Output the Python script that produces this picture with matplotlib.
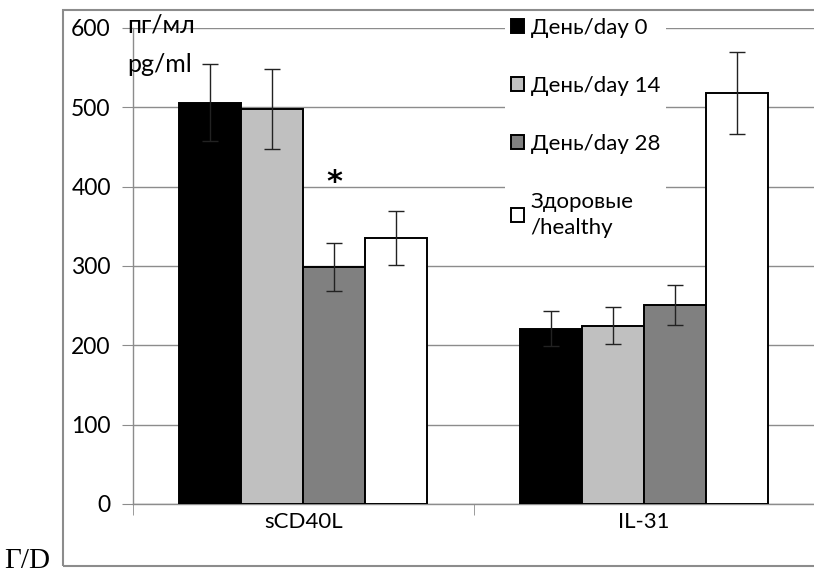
import matplotlib
matplotlib.use("Agg")
import matplotlib.pyplot as plt
from matplotlib.patches import Rectangle
import numpy as np

categories = ["sCD40L", "IL-31"]
series_names = ["День/day 0", "День/day 14", "День/day 28", "Здоровые\n/healthy"]
values = {
    "День/day 0": [506, 221],
    "День/day 14": [498, 225],
    "День/day 28": [299, 251],
    "Здоровые\n/healthy": [335, 518],
}
errors = {
    "День/day 0": [49, 22],
    "День/day 14": [50, 23],
    "День/day 28": [30, 25],
    "Здоровые\n/healthy": [34, 52],
}
colors = ["#000000", "#C0C0C0", "#808080", "#FFFFFF"]
yticks = [0, 100, 200, 300, 400, 500, 600]
star_value = 405  # position of the significance asterisk (sCD40L, day 28)

plt.rcParams['font.family'] = ['Lato', 'DejaVu Sans']

W, H = 814, 578
fig = plt.figure(figsize=(W / 100, H / 100), dpi=100)

# chart area frame (drawn above axes so the legend background doesn't hide it)
fig.patches.append(Rectangle((63 / W, (H - 566) / H), (W + 10 - 63) / W, (566 - 10) / H,
                             transform=fig.transFigure, fill=False,
                             edgecolor="#8C8C8C", linewidth=1.5, zorder=10))

ax = fig.add_axes([133 / W, (H - 504) / H, (W - 133) / W, (504 - 28) / H])
ax.set_facecolor("none")

x = np.arange(len(categories))
w = 0.1824
for i, name in enumerate(series_names):
    pos = x + (i - 1.5) * w
    ax.bar(pos, values[name], width=w, color=colors[i], edgecolor="black",
           linewidth=1.4, label=name, zorder=3)
    ax.errorbar(pos, values[name], yerr=errors[name], fmt="none",
                ecolor="#222222", elinewidth=1.0, capsize=5.5, capthick=1.0, zorder=4)

ax.text(x[0] + 0.5 * w, star_value, "*", ha="center", va="center",
        fontsize=22, fontweight="bold", family="DejaVu Sans", zorder=5)

ax.set_xlim(-0.5, 1.5)
ax.set_ylim(0, 600)
ax.set_yticks(yticks)
ax.set_yticklabels([str(t) for t in yticks], fontsize=16.5)
ax.yaxis.grid(True, color="#8C8C8C", linewidth=1.0, zorder=0)
ax.set_axisbelow(True)

ax.set_xticks(x)
ax.set_xticklabels(categories, fontsize=16)
ax.set_xticks([-0.5, 0.5, 1.5], minor=True)
ax.tick_params(axis="x", which="major", length=0, pad=6)
ax.tick_params(axis="x", which="minor", length=8, color="#8C8C8C", direction="out")
ax.tick_params(axis="y", length=8, color="#8C8C8C", direction="out", pad=8)

for s in ["top", "right"]:
    ax.spines[s].set_visible(False)
for s in ["left", "bottom"]:
    ax.spines[s].set_color("#8C8C8C")
    ax.spines[s].set_linewidth(1.0)

fig.text(127 / W, (H - 25) / H, "пг/мл", fontsize=18, ha="left", va="center")
fig.text(127 / W, (H - 64) / H, "pg/ml", fontsize=18, ha="left", va="center")

leg = ax.legend(loc="upper left", bbox_to_anchor=(494 / W, (H - 1) / H),
                bbox_transform=fig.transFigure, fontsize=16,
                handlelength=0.6, handleheight=0.6, handletextpad=0.3,
                labelspacing=1.72, frameon=True, framealpha=1.0,
                facecolor="white", edgecolor="none", fancybox=False, borderpad=0.25)
leg.set_zorder(6)
for t in leg.get_texts():
    t.set_linespacing(1.35)

fig.text(4 / W, (H - 561) / H, "Г/D", fontsize=21, family="Liberation Serif",
         ha="left", va="center")

fig.savefig("out.png", dpi=100)
